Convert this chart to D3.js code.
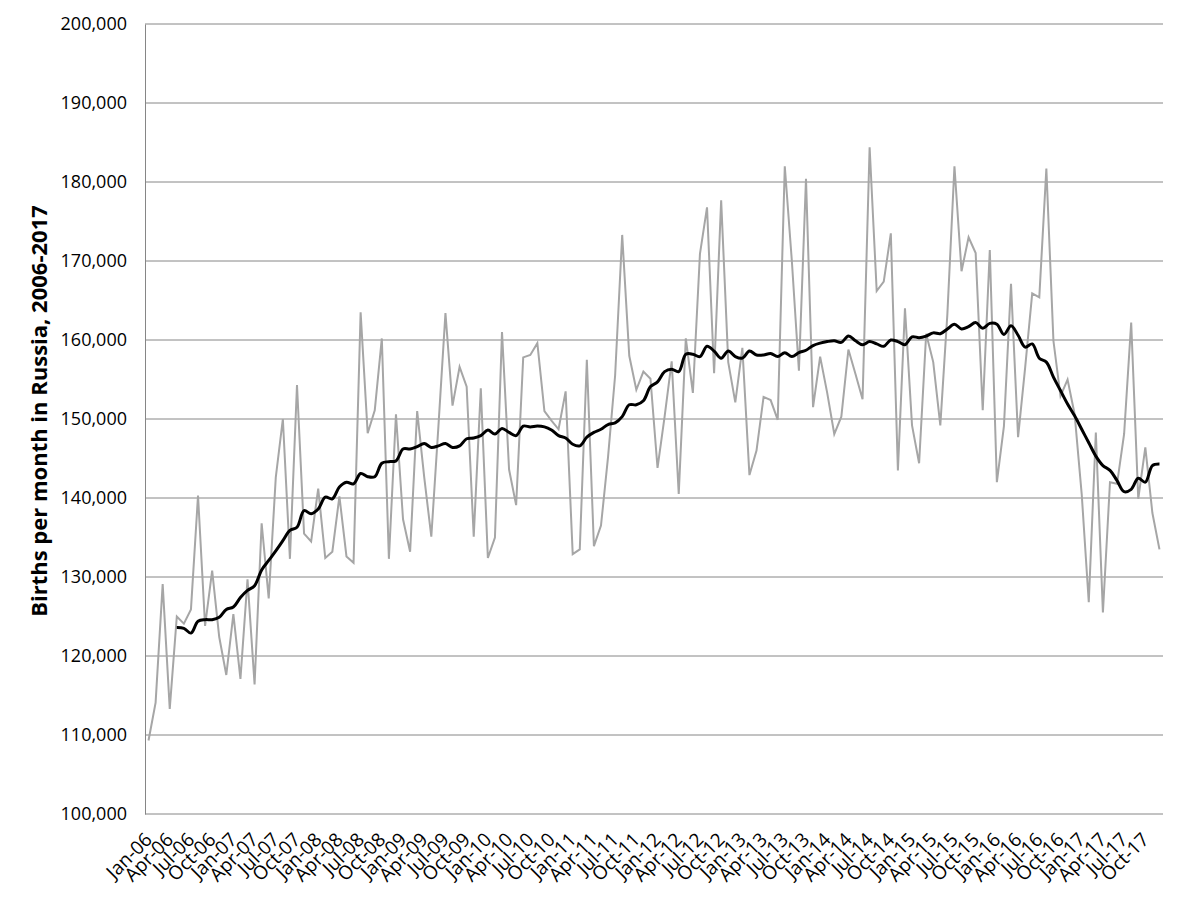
<!DOCTYPE html>
<html>
<head>
<meta charset="utf-8">
<script src="https://cdn.jsdelivr.net/npm/d3@7"></script>
<style>
  body { margin: 0; background: #fff; }
  svg text { font-family: "Open Sans", "Liberation Sans", sans-serif; fill: #000; }
</style>
</head>
<body>
<div id="chart"></div>
<script>
// categories
var monthNames = ["Jan","Feb","Mar","Apr","May","Jun","Jul","Aug","Sep","Oct","Nov","Dec"];
var years = ["06","07","08","09","10","11","12","13","14","15","16","17"];
var yTicks = [100000,110000,120000,130000,140000,150000,160000,170000,180000,190000,200000];

// monthly births, Jan-06 .. Dec-17
var births = [
  109300,114100,129100,113300,125000,124100,125900,140300,123800,130800,122400,117600,
  125300,117100,129700,116400,136800,127300,142600,150000,132300,154300,135500,134500,
  141200,132400,133200,140200,132600,131800,163500,148200,151100,160200,132300,150600,
  137300,133200,151000,142600,135100,149000,163400,151700,156600,154100,135100,153900,
  132400,135000,161000,143600,139100,157800,158100,159600,151000,149800,148700,153500,
  132900,133500,157500,133900,136500,145200,155500,173300,158000,153700,156000,155100,
  143800,150300,157300,140500,160200,153300,170900,176800,155800,177700,157200,152100,
  159000,142900,146000,152800,152400,149900,182000,170000,156100,180400,151500,157900,
  153300,148100,150300,158800,155700,152500,184400,166200,167400,173500,143500,164000,
  149200,144400,160800,157200,149200,163300,182000,168700,173000,171000,151100,171400,
  142000,149100,167100,147700,156500,165900,165400,181700,159900,152900,155000,150600,
  140500,126800,148300,125500,142000,141800,148100,162200,139900,146400,138100,133500
];

// smoothed trend (black), starts May-06
var trend = [
  null,null,null,null,123600,123500,122900,124400,124600,124600,124900,125900,
  126200,127400,128300,128900,130900,132100,133300,134600,135900,136300,138400,138000,
  138600,140100,139900,141400,142000,141800,143100,142700,142700,144400,144600,144700,
  146200,146200,146500,146900,146400,146600,146900,146400,146600,147500,147600,147900,
  148600,148100,148800,148300,147900,149100,149000,149100,149000,148600,147900,147600,
  146800,146600,147700,148300,148700,149300,149500,150300,151800,151800,152300,154100,
  154700,156000,156300,156000,158200,158200,157900,159200,158600,157700,158600,157900,
  157700,158600,158100,158100,158300,157900,158400,157900,158400,158700,159300,159600,
  159800,159900,159700,160500,159900,159400,159800,159500,159200,160000,159800,159400,
  160400,160300,160500,160900,160800,161400,162000,161400,161700,162200,161500,162100,
  162000,160700,161800,160600,159100,159500,157700,157200,155300,153600,151900,150400,
  148700,147000,145300,144100,143500,142200,140800,141100,142500,142000,144100,144300
];

var months = [];
years.forEach(function(yy){
  monthNames.forEach(function(m){ months.push(m + "-" + yy); });
});

var width = 1200, height = 900;
var margin = {top: 24, right: 37, bottom: 86, left: 145};

var svg = d3.select("#chart").append("svg")
  .attr("width", width)
  .attr("height", height);

var x = d3.scalePoint()
  .domain(months)
  .range([margin.left, width - margin.right])
  .padding(0.5);

var y = d3.scaleLinear()
  .domain([100000, 200000])
  .range([height - margin.bottom, margin.top]);

// gridlines
svg.append("g")
  .selectAll("line")
  .data(yTicks)
  .enter()
  .append("line")
  .attr("x1", margin.left)
  .attr("x2", width - margin.right)
  .attr("y1", function(d){ return y(d); })
  .attr("y2", function(d){ return y(d); })
  .style("stroke", "#868686")
  .style("stroke-width", 1);

// y axis
var yAxis = svg.append("g")
  .attr("transform", "translate(" + margin.left + ",0)")
  .call(d3.axisLeft(y).tickValues(yTicks).tickSize(0).tickPadding(18).tickFormat(d3.format(",")));
yAxis.select(".domain").style("stroke", "#868686");
yAxis.selectAll("text").style("font-size", "18px");

// x axis
var xAxis = svg.append("g")
  .attr("transform", "translate(0," + (height - margin.bottom) + ")")
  .call(d3.axisBottom(x).tickValues(months.filter(function(d, i){ return i % 3 == 0; })).tickSize(0));
xAxis.select(".domain").remove();
xAxis.selectAll("text")
  .style("font-size", "19px")
  .style("text-anchor", "end")
  .attr("dx", 0)
  .attr("dy", 0)
  .attr("x", -16)
  .attr("y", 22)
  .attr("transform", "rotate(-45)");

// y title
svg.append("text")
  .attr("transform", "translate(47,411) rotate(-90)")
  .attr("text-anchor", "middle")
  .style("font-size", "22px")
  .style("font-weight", "bold")
  .text("Births per month in Russia, 2006-2017");

// grey monthly line
var line = d3.line()
  .x(function(d, i){ return x(months[i]); })
  .y(function(d){ return y(d); });

svg.append("path")
  .datum(births)
  .attr("d", line)
  .style("fill", "none")
  .style("stroke", "#a6a6a6")
  .style("stroke-width", 2);

// black trend line
var trendLine = d3.line()
  .defined(function(d){ return d != null; })
  .x(function(d, i){ return x(months[i]); })
  .y(function(d){ return y(d); })
  .curve(d3.curveCatmullRom);

svg.append("path")
  .datum(trend)
  .attr("d", trendLine)
  .style("fill", "none")
  .style("stroke", "#000")
  .style("stroke-width", 3);
</script>
</body>
</html>
